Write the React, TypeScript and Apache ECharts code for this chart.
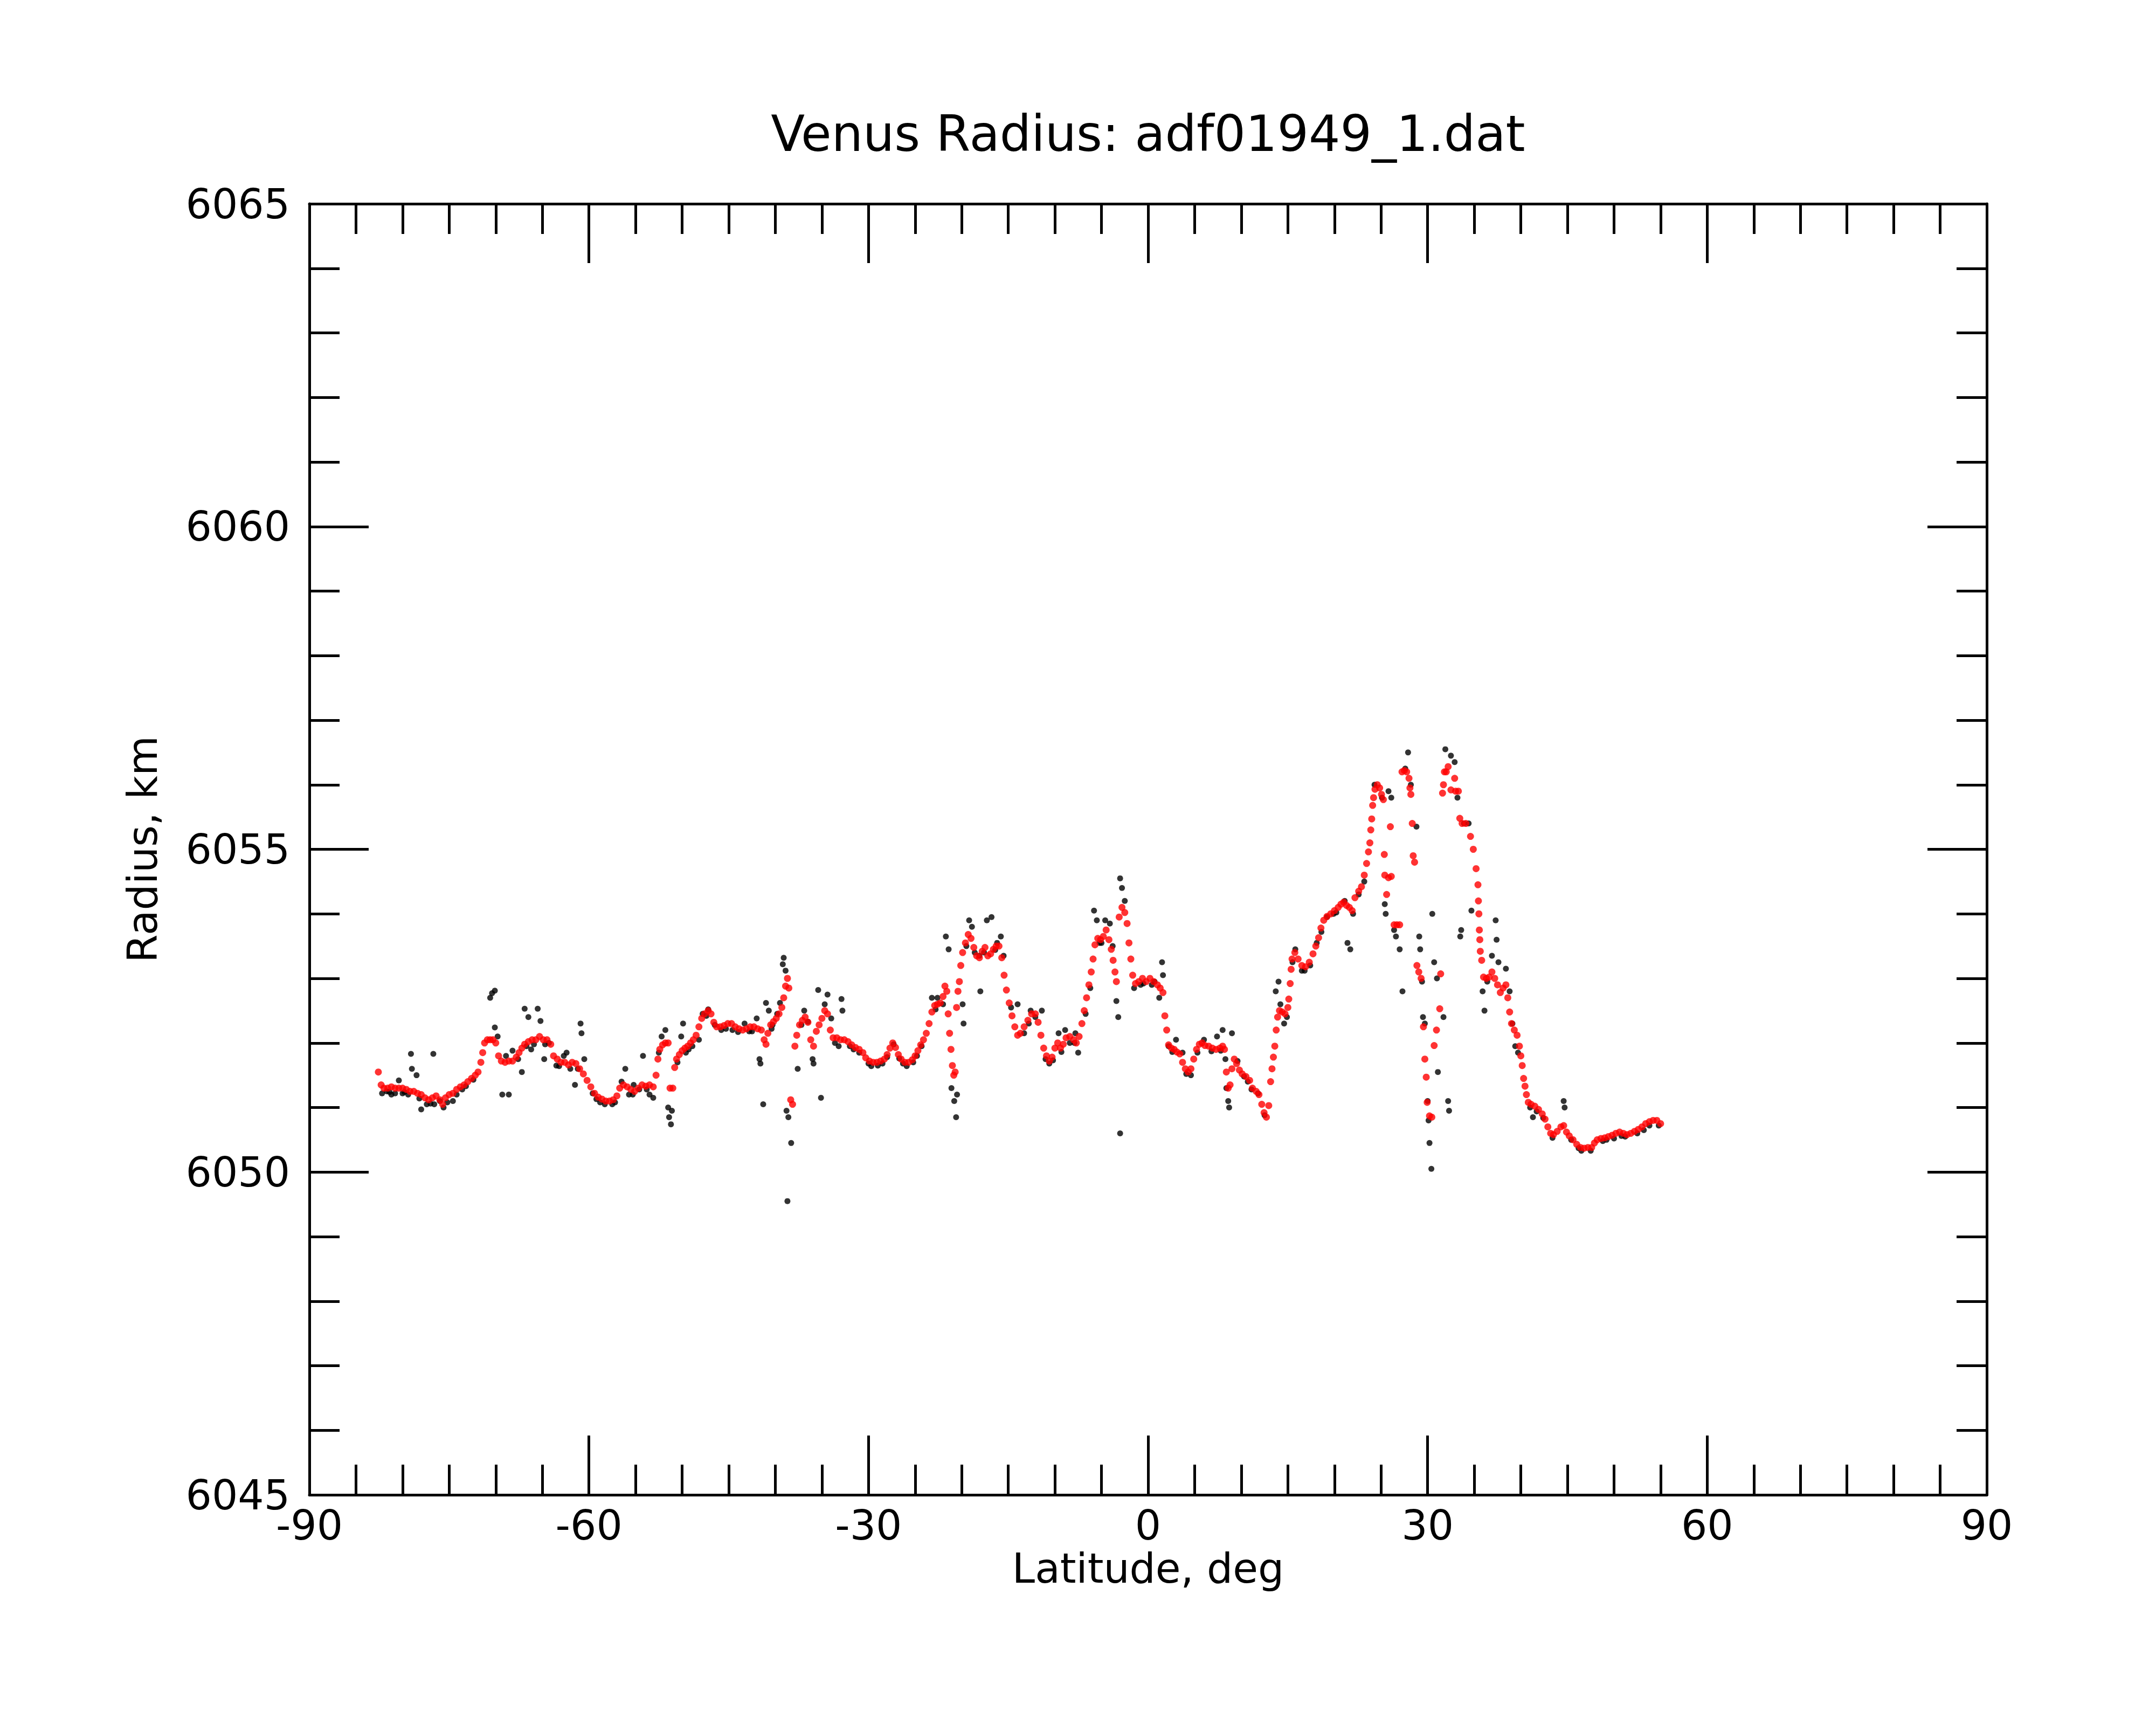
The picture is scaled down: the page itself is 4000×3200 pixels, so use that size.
import React, { useEffect, useRef } from "react";
import * as echarts from "echarts";

const TITLE = "Venus Radius: adf01949_1.dat";
const X_NAME = "Latitude, deg";
const Y_NAME = "Radius, km";
const X_RANGE = [-90, 90];
const Y_RANGE = [6045, 6065];

// Smoothed radius track (red), [latitude, radius]
const redSouth = [
  [-82.6,6051.55],[-82.3,6051.35],[-82.0,6051.3],[-81.6,6051.3],[-81.2,6051.32],[-80.8,6051.3],[-80.4,6051.3],[-80.0,6051.3],[-79.6,6051.28],[-79.2,6051.25],[-78.8,6051.25],[-78.4,6051.22],[-78.0,6051.2],[-77.6,6051.15],[-77.2,6051.12],[-76.8,6051.15],[-76.4,6051.18],[-76.0,6051.12],[-75.7,6051.05],[-75.4,6051.15],[-75.0,6051.2],[-74.6,6051.22],[-74.2,6051.28],[-73.8,6051.32],[-73.4,6051.35],[-73.0,6051.4],[-72.6,6051.45],[-72.2,6051.5],[-71.9,6051.55],[-71.6,6051.7],[-71.4,6051.85],[-71.2,6052.0],[-70.9,6052.05],[-70.6,6052.05],[-70.3,6052.05],[-70.0,6052.0],[-69.7,6051.8],[-69.4,6051.72],[-69.0,6051.7],[-68.6,6051.72],[-68.2,6051.72],[-67.8,6051.78],[-67.5,6051.85],[-67.2,6051.92],[-66.9,6051.98],[-66.5,6052.02],[-66.1,6052.05],[-65.7,6052.05],[-65.3,6052.1],[-64.9,6052.05],[-64.5,6052.05],[-64.1,6051.98],[-63.8,6051.8],[-63.4,6051.75],[-63.0,6051.7],[-62.6,6051.7],[-62.2,6051.66],[-61.8,6051.7],[-61.4,6051.68],[-61.0,6051.6],[-60.6,6051.52],[-60.2,6051.42],[-59.8,6051.32],[-59.4,6051.22],[-59.0,6051.16],[-58.6,6051.13],[-58.2,6051.1],[-57.8,6051.1],[-57.4,6051.12],[-57.0,6051.18],[-56.7,6051.3],[-56.3,6051.35],[-55.9,6051.32],[-55.5,6051.28],[-55.1,6051.25],[-54.7,6051.3],[-54.3,6051.35],[-53.9,6051.33],[-53.5,6051.35],[-53.1,6051.32],
  [-52.8,6051.5],[-52.6,6051.75],[-52.4,6051.9],[-52.1,6051.97],[-51.8,6052.0],[-51.5,6052.0],[-51.3,6051.3],[-51.0,6051.3],[-50.8,6051.62],[-50.6,6051.75],[-50.3,6051.82],[-50.0,6051.88],[-49.7,6051.92],[-49.4,6051.95],[-49.1,6052.0],[-48.8,6052.05],[-48.5,6052.12],[-48.2,6052.25],[-47.9,6052.38],[-47.6,6052.45],[-47.2,6052.5],[-46.9,6052.45],[-46.6,6052.32],[-46.3,6052.25],[-45.9,6052.25],[-45.5,6052.27],[-45.1,6052.3],[-44.7,6052.3],[-44.3,6052.25],[-43.9,6052.22],[-43.5,6052.2],[-43.1,6052.22],[-42.7,6052.25],[-42.3,6052.25],[-41.9,6052.22],[-41.5,6052.2],[-41.2,6052.05],[-41.0,6051.98],[-40.8,6052.15],[-40.5,6052.28],[-40.2,6052.33],[-39.9,6052.38],[-39.6,6052.45],[-39.3,6052.55],[-39.1,6052.7],[-38.9,6052.88],[-38.7,6053.0],[-38.55,6052.85],[-38.35,6051.12],[-38.15,6051.05],[-37.9,6051.95],[-37.7,6052.12],[-37.4,6052.28],[-37.1,6052.35],[-36.8,6052.4],[-36.5,6052.32],[-36.2,6052.05],[-35.9,6051.95],[-35.6,6052.18],[-35.3,6052.28],[-35.0,6052.38],[-34.7,6052.5],[-34.4,6052.45],[-34.1,6052.2],[-33.8,6052.08],[-33.4,6052.08],[-33.0,6052.05],[-32.6,6052.05],[-32.2,6052.02],[-31.8,6051.97],[-31.4,6051.93],[-31.0,6051.9],[-30.6,6051.85],[-30.3,6051.77],[-29.9,6051.72],[-29.5,6051.7],[-29.1,6051.7],[-28.7,6051.72],[-28.3,6051.75],[-28.0,6051.82],[-27.7,6051.92],[-27.4,6052.0],[-27.1,6051.93],[-26.8,6051.82],[-26.5,6051.75],[-26.1,6051.7],[-25.7,6051.7],[-25.3,6051.74],[-25.0,6051.8],[-24.7,6051.88],[-24.4,6051.97],[-24.1,6052.05]
];

const redMid = [
  [-23.8,6052.15],[-23.5,6052.3],[-23.2,6052.48],[-22.9,6052.58],[-22.6,6052.6],[-22.3,6052.62],[-22.0,6052.72],[-21.8,6052.88],[-21.6,6052.8],[-21.45,6052.45],[-21.3,6052.15],[-21.15,6051.9],[-21.0,6051.65],[-20.85,6051.5],[-20.7,6051.55],[-20.55,6052.55],[-20.4,6052.8],[-20.25,6052.95],[-20.1,6053.2],[-19.9,6053.4],[-19.6,6053.55],[-19.3,6053.68],[-19.0,6053.62],[-18.7,6053.48],[-18.4,6053.35],[-18.1,6053.32],[-17.8,6053.42],[-17.5,6053.48],[-17.2,6053.35],[-16.9,6053.38],[-16.6,6053.45],[-16.3,6053.5],[-16.0,6053.5],[-15.7,6053.32],[-15.45,6053.05],[-15.2,6052.82],[-14.9,6052.62],[-14.6,6052.42],[-14.3,6052.25],[-14.0,6052.12],[-13.7,6052.15],[-13.3,6052.25],[-12.9,6052.35],[-12.5,6052.45],[-12.1,6052.45],[-11.8,6052.32],[-11.5,6052.12],[-11.2,6051.92],[-10.9,6051.8],[-10.6,6051.72],[-10.3,6051.78],[-10.0,6051.92],[-9.7,6052.0],[-9.4,6051.92],[-9.1,6051.98],[-8.8,6052.08],[-8.4,6052.1],[-8.0,6052.05],[-7.7,6052.0],[-7.4,6052.1],[-7.1,6052.3],[-6.85,6052.5],[-6.6,6052.7],[-6.35,6052.9],[-6.1,6053.1],[-5.9,6053.3],[-5.7,6053.52],[-5.4,6053.62],[-5.1,6053.6],[-4.8,6053.65],[-4.5,6053.75],[-4.2,6053.6],[-3.95,6053.45],[-3.75,6053.28],[-3.55,6053.1],[-3.4,6052.95],[-3.1,6053.95],[-2.8,6054.1],[-2.5,6054.02],[-2.25,6053.85],[-2.05,6053.55],[-1.85,6053.3],[-1.65,6053.05],[-1.35,6052.92],[-1.0,6052.95],[-0.6,6053.0],[-0.2,6052.95],[0.2,6053.0],[0.6,6052.95],[1.0,6052.9],[1.3,6052.85],[1.6,6052.78],[1.8,6052.42],[2.0,6052.2],[2.2,6051.97],[2.5,6051.92],[2.8,6051.9],[3.1,6051.86],[3.4,6051.83],[3.7,6051.7],[4.0,6051.6],[4.3,6051.55],[4.6,6051.6],[4.9,6051.75],[5.2,6051.9],[5.5,6051.98],[5.8,6052.0],[6.1,6051.96],[6.5,6051.95],[6.9,6051.92],[7.3,6051.9],[7.7,6051.92],[8.0,6051.95],[8.2,6051.9],[8.4,6051.55],[8.6,6051.3],[8.8,6051.35],[9.0,6051.6],[9.25,6051.75],[9.5,6051.68],[9.8,6051.58],[10.1,6051.52],[10.5,6051.48],[10.9,6051.42],[11.2,6051.3],[11.6,6051.25],[11.9,6051.2],[12.2,6051.05],[12.45,6050.92],[12.7,6050.85]
];

const redNorth = [
  [12.95,6051.03],[13.15,6051.4],[13.3,6051.6],[13.45,6051.78],[13.6,6051.95],[13.75,6052.2],[13.9,6052.4],[14.1,6052.5],[14.4,6052.48],[14.7,6052.45],[15.0,6052.55],[15.1,6052.68],[15.25,6052.92],[15.35,6053.14],[15.45,6053.3],[15.75,6053.4],[16.1,6053.3],[16.5,6053.2],[16.9,6053.18],[17.3,6053.25],[17.7,6053.38],[18.0,6053.5],[18.3,6053.63],[18.55,6053.78],[18.85,6053.9],[19.2,6053.96],[19.6,6054.0],[20.0,6054.05],[20.4,6054.1],[20.7,6054.15],[21.0,6054.18],[21.3,6054.13],[21.6,6054.1],[21.9,6054.05],[22.2,6054.25],[22.6,6054.35],[22.9,6054.42],[23.2,6054.6],[23.45,6054.78],[23.65,6054.96],[23.8,6055.1],[23.9,6055.3],[24.0,6055.47],[24.1,6055.68],[24.2,6055.8],[24.35,6055.93],[24.6,6056.0],[24.85,6055.95],[25.05,6055.85],[25.25,6055.77],[25.35,6054.92],[25.4,6054.6],[25.6,6054.3],[25.8,6054.56],[26.0,6055.35],[26.1,6054.58],[26.4,6053.83],[26.7,6053.83],[27.0,6053.83],[27.25,6056.2],[27.5,6056.22],[27.75,6056.2],[28.0,6056.1],[28.1,6055.95],[28.2,6055.85],[28.35,6055.4],[28.45,6054.9],[28.6,6054.8],[28.85,6053.2],[29.05,6053.1],[29.3,6053.0],[29.55,6052.25],[29.7,6051.75],[29.85,6051.47],[29.95,6051.08],[30.2,6050.87],[30.45,6050.85],[30.7,6051.96],[30.95,6052.2],[31.3,6052.53],[31.4,6053.07],[31.6,6055.87],[31.7,6056.0],[31.8,6056.2],[32.0,6056.2],[32.2,6056.28],[32.5,6055.92],[32.9,6056.1],[33.0,6055.9],[33.3,6055.9],[33.45,6055.48],[33.7,6055.4],[34.1,6055.4],[34.6,6055.2],[34.9,6055.0],[35.2,6054.7],[35.4,6054.45],[35.45,6054.2],[35.5,6054.0],[35.55,6053.75],[35.6,6053.6],[35.65,6053.42],[35.8,6053.28],[36.0,6053.02],[36.3,6053.0],[36.6,6053.02],[36.9,6053.1],[37.2,6053.0],[37.5,6052.9],[37.8,6052.78],[38.1,6052.85],[38.4,6052.9],[38.6,6052.7],[38.8,6052.48],[39.0,6052.3],[39.3,6052.2],[39.6,6052.12],[39.85,6051.95],[40.0,6051.8],[40.15,6051.65],[40.3,6051.45],[40.45,6051.33],[40.6,6051.2],[40.8,6051.08],[41.1,6051.05],[41.5,6051.02],[41.9,6050.97],[42.3,6050.9],[42.6,6050.82],[42.9,6050.7],[43.2,6050.6],[43.5,6050.58],[43.9,6050.63],[44.3,6050.7],[44.6,6050.72],[44.9,6050.62],[45.2,6050.56],[45.6,6050.5],[46.0,6050.43],[46.4,6050.38],[46.8,6050.37],[47.2,6050.38],[47.6,6050.38],[47.9,6050.45],[48.2,6050.5],[48.6,6050.52],[49.0,6050.53],[49.4,6050.55],[49.8,6050.57],[50.2,6050.6],[50.6,6050.62],[51.0,6050.6],[51.4,6050.58],[51.8,6050.6],[52.2,6050.63],[52.6,6050.66],[53.0,6050.7],[53.4,6050.75],[53.8,6050.78],[54.2,6050.8],[54.6,6050.8],[55.0,6050.75]
];

// Raw radius samples (black), [latitude, radius]
const blackSouth = [
  [-82.2,6051.22],[-81.7,6051.25],[-81.4,6051.24],[-81.2,6051.2],[-80.8,6051.22],[-80.4,6051.42],[-80.0,6051.22],[-79.8,6051.24],[-79.4,6051.2],[-79.1,6051.83],[-79.0,6051.6],[-78.5,6051.5],[-78.2,6051.14],[-78.0,6050.97],[-77.4,6051.05],[-77.0,6051.06],[-76.7,6051.83],[-76.6,6051.05],[-76.0,6051.1],[-75.6,6051.0],[-75.2,6051.08],[-74.6,6051.1],[-74.2,6051.2],[-73.6,6051.28],[-73.2,6051.33],[-72.4,6051.43],
  [-70.6,6052.7],[-70.4,6052.77],[-70.1,6052.81],[-70.1,6052.24],[-69.8,6052.1],[-69.3,6051.2],[-68.9,6051.8],[-68.6,6051.2],[-68.2,6051.88],[-67.6,6051.75],[-67.2,6051.55],[-66.9,6052.53],[-66.7,6051.95],[-66.5,6052.4],[-66.2,6051.9],[-65.9,6051.98],[-65.5,6052.53],[-65.2,6052.34],[-64.8,6051.75],[-64.7,6051.98],[-64.3,6052.0],[-63.5,6051.65],[-63.2,6051.64],[-62.7,6051.8],[-62.4,6051.85],[-62.0,6051.6],[-61.5,6051.35],[-61.2,6051.6],[-60.9,6052.3],[-60.8,6052.15],[-60.5,6051.75],[-59.6,6051.22],[-59.2,6051.13],[-58.8,6051.08],[-58.3,6051.05],[-57.5,6051.05],[-57.2,6051.08],[-56.5,6051.4],[-56.1,6051.6],[-55.7,6051.2],[-55.3,6051.2],[-55.2,6051.35],[-54.6,6051.28],[-54.2,6051.8],[-53.8,6051.28],[-53.5,6051.2],[-53.1,6051.15],[-52.5,6051.85],[-52.2,6052.1],[-51.8,6052.2],[-51.5,6051.0],[-51.4,6050.85],[-51.2,6050.74],[-51.1,6050.95],[-50.5,6051.7],[-50.1,6052.1],[-49.9,6052.3],[-49.6,6051.85],[-49.3,6051.9],[-48.9,6051.95],[-48.2,6052.05],[-47.8,6052.45],[-47.4,6052.42],[-47.2,6052.52],[-46.5,6052.28],[-45.8,6052.2],[-45.3,6052.22],[-44.6,6052.2],[-44.0,6052.17],[-43.3,6052.3],[-42.8,6052.18],[-42.5,6052.18],[-42.0,6052.38],[-41.7,6051.75],[-41.6,6051.68],[-41.3,6051.05],[-41.0,6052.62],[-40.7,6052.5],[-40.4,6052.22],[-40.3,6052.28],[-39.8,6052.45],[-39.5,6052.62],[-39.2,6053.22],[-39.1,6053.32],[-38.9,6053.12],[-38.8,6050.95],[-38.6,6050.85],[-38.3,6050.45],[-38.7,6049.55],[-37.6,6051.6],[-37.2,6052.28],[-36.9,6052.5],[-36.5,6052.33],[-36.0,6051.75],[-35.9,6051.68],[-35.4,6052.82],[-35.1,6051.15],[-34.7,6052.6],[-34.4,6052.75],[-34.0,6052.38],[-33.6,6052.0],[-33.2,6051.95],[-32.9,6052.68],[-32.8,6052.5],[-32.0,6051.95],[-31.6,6051.9],[-31.0,6051.85],[-30.0,6051.68],[-29.7,6051.64],[-29.0,6051.65],[-28.5,6051.68],[-28.0,6051.78],[-27.3,6051.98],[-26.7,6051.76],[-26.3,6051.68],[-25.9,6051.64],[-25.2,6051.7],[-24.8,6051.8],[-24.3,6051.95]
];

const blackMid = [
  [-23.2,6052.7],[-22.8,6052.52],[-22.6,6052.7],[-22.0,6052.6],[-21.7,6053.65],[-21.4,6053.45],[-21.1,6051.3],[-20.8,6051.1],[-20.6,6050.85],[-20.5,6051.2],[-19.9,6052.6],[-19.8,6052.3],[-19.5,6053.5],[-19.2,6053.9],[-18.9,6053.8],[-18.6,6053.4],[-18.1,6053.35],[-18.0,6052.8],[-17.6,6053.4],[-17.3,6053.9],[-16.8,6053.95],[-16.4,6053.44],[-16.2,6053.55],[-15.8,6053.65],[-15.5,6053.35],[-14.7,6052.55],[-14.0,6052.6],[-13.3,6052.15],[-12.8,6052.3],[-12.6,6052.5],[-12.1,6052.4],[-11.4,6052.5],[-11.0,6051.75],[-10.6,6051.68],[-10.2,6051.73],[-9.6,6052.15],[-9.3,6051.86],[-8.9,6052.2],[-8.4,6052.0],[-7.9,6052.0],[-7.8,6052.15],[-7.5,6051.85],[-6.7,6052.45],[-6.2,6052.85],[-5.8,6054.05],[-5.5,6053.9],[-5.2,6053.55],[-5.0,6053.55],[-4.6,6053.9],[-4.1,6053.85],[-3.8,6053.5],[-3.4,6052.65],[-3.2,6052.4],[-3.0,6054.55],[-2.8,6054.4],[-3.0,6050.6],[-2.5,6054.2],[-1.5,6052.85],[-0.8,6052.9],[-0.5,6052.92],[0.4,6052.9],[0.7,6052.95],[1.2,6052.7],[1.5,6053.25],[1.6,6053.05],[2.2,6051.95],[2.6,6051.86],[3.0,6052.05],[3.7,6051.85],[4.1,6051.52],[4.6,6051.5],[5.3,6051.85],[6.0,6052.05],[6.8,6051.87],[7.4,6052.1],[7.8,6051.88],[8.0,6052.2],[8.3,6051.75],[8.4,6051.3],[8.6,6051.1],[8.7,6051.0],[9.0,6052.15],[9.6,6051.72],[10.3,6051.48],[10.7,6051.4],[11.1,6051.28],[11.8,6051.22],[12.5,6050.88]
];

const blackNorth = [
  [13.7,6052.8],[14.0,6052.95],[14.2,6052.6],[14.6,6052.3],[14.9,6052.4],[15.5,6053.25],[15.8,6053.45],[16.5,6053.12],[16.8,6053.12],[17.4,6053.2],[18.1,6053.55],[18.6,6053.72],[19.2,6053.95],[19.9,6054.0],[20.2,6054.02],[21.1,6054.2],[21.4,6053.55],[21.7,6053.45],[22.0,6054.0],[22.6,6054.3],[23.2,6054.5],[24.3,6056.0],[25.1,6055.8],[25.4,6054.15],[25.5,6054.0],[25.8,6055.9],[26.1,6055.8],[26.4,6053.75],[26.6,6053.65],[27.0,6053.45],[27.3,6052.8],[27.6,6056.25],[27.9,6056.5],[28.2,6056.0],[28.8,6055.35],[29.1,6053.65],[29.2,6053.45],[29.4,6052.95],[29.5,6052.4],[29.7,6052.3],[30.0,6051.1],[30.1,6050.8],[30.2,6050.45],[30.4,6050.05],[30.5,6054.0],[30.7,6053.25],[31.0,6053.0],[31.1,6051.55],[31.7,6052.4],[32.2,6051.1],[32.3,6050.95],[31.9,6056.55],[32.5,6056.45],[32.9,6056.35],[33.2,6055.8],[33.5,6053.65],[33.6,6053.75],[33.9,6055.4],[34.4,6055.4],[34.7,6054.05],[35.9,6052.8],[36.1,6052.5],[36.4,6052.95],[36.9,6053.35],[37.3,6053.9],[37.4,6053.6],[37.6,6053.25],[38.4,6053.15],[38.8,6052.8],[39.1,6052.3],[39.4,6051.95],[39.7,6051.85],[41.0,6051.0],[41.3,6050.85],[41.7,6050.94],[42.4,6050.84],[43.4,6050.53],[44.6,6051.1],[44.7,6051.0],[45.4,6050.5],[46.2,6050.37],[46.5,6050.33],[47.5,6050.33],[48.8,6050.48],[49.2,6050.5],[50.0,6050.52],[50.8,6050.56],[51.2,6050.55],[52.5,6050.6],[53.2,6050.65],[53.8,6050.72],[54.8,6050.72]
];

const FONT = "DejaVu Sans";

export default function App() {
  const ref = useRef<HTMLDivElement>(null);
  useEffect(() => {
    if (!ref.current) return;
    const chart = echarts.init(ref.current, undefined, { renderer: "svg" });
    const line = { color: "#000", width: 5 };
    const base = (extra: any) => ({
      type: "value",
      axisLine: { show: true, onZero: false, lineStyle: line },
      axisTick: { show: true, inside: true, length: 110, lineStyle: line },
      splitLine: { show: false },
      minorSplitLine: { show: false },
      ...extra,
    });
    const labelStyle = { fontSize: 76, color: "#000", fontFamily: FONT };
    chart.setOption({
      animation: false,
      backgroundColor: "#fff",
      grid: { left: 574, top: 378, width: 3112, height: 2395, containLabel: false },
      graphic: [
        {
          type: "text",
          x: 2130,
          y: 248,
          style: {
            text: TITLE,
            fontSize: 92,
            fontFamily: FONT,
            fill: "#000",
            textAlign: "center",
            textVerticalAlign: "middle",
            align: "center",
            verticalAlign: "middle",
          },
        },
      ],
      xAxis: [
        base({
          position: "bottom",
          min: X_RANGE[0],
          max: X_RANGE[1],
          interval: 30,
          minorTick: { show: true, splitNumber: 6, length: 56, lineStyle: line },
          axisLabel: { ...labelStyle, margin: 18, formatter: (v: number) => String(v) },
          name: X_NAME,
          nameLocation: "middle",
          nameGap: 94,
          nameTextStyle: labelStyle,
        }),
        base({
          position: "top",
          min: X_RANGE[0],
          max: X_RANGE[1],
          interval: 30,
          minorTick: { show: true, splitNumber: 6, length: 56, lineStyle: line },
          axisLabel: { show: false },
        }),
      ],
      yAxis: [
        base({
          position: "left",
          min: Y_RANGE[0],
          max: Y_RANGE[1],
          interval: 5,
          minorTick: { show: true, splitNumber: 5, length: 56, lineStyle: line },
          axisLabel: { ...labelStyle, margin: 36, formatter: (v: number) => String(v) },
          name: Y_NAME,
          nameLocation: "middle",
          nameGap: 272,
          nameTextStyle: labelStyle,
        }),
        base({
          position: "right",
          min: Y_RANGE[0],
          max: Y_RANGE[1],
          interval: 5,
          minorTick: { show: true, splitNumber: 5, length: 56, lineStyle: line },
          axisLabel: { show: false },
        }),
      ],
      series: [
        {
          type: "scatter",
          xAxisIndex: 0,
          yAxisIndex: 0,
          symbol: "circle",
          symbolSize: 11,
          itemStyle: { color: "#000" },
          data: [...blackSouth, ...blackMid, ...blackNorth],
          silent: true,
        },
        {
          type: "scatter",
          xAxisIndex: 0,
          yAxisIndex: 0,
          symbol: "circle",
          symbolSize: 13,
          itemStyle: { color: "#ff0000" },
          data: [...redSouth, ...redMid, ...redNorth],
          silent: true,
        },
      ],
    });
    return () => chart.dispose();
  }, []);
  return (
    <div
      ref={ref}
      style={{ position: "absolute", left: 0, top: 0, width: 4000, height: 3200, background: "#fff" }}
    />
  );
}
